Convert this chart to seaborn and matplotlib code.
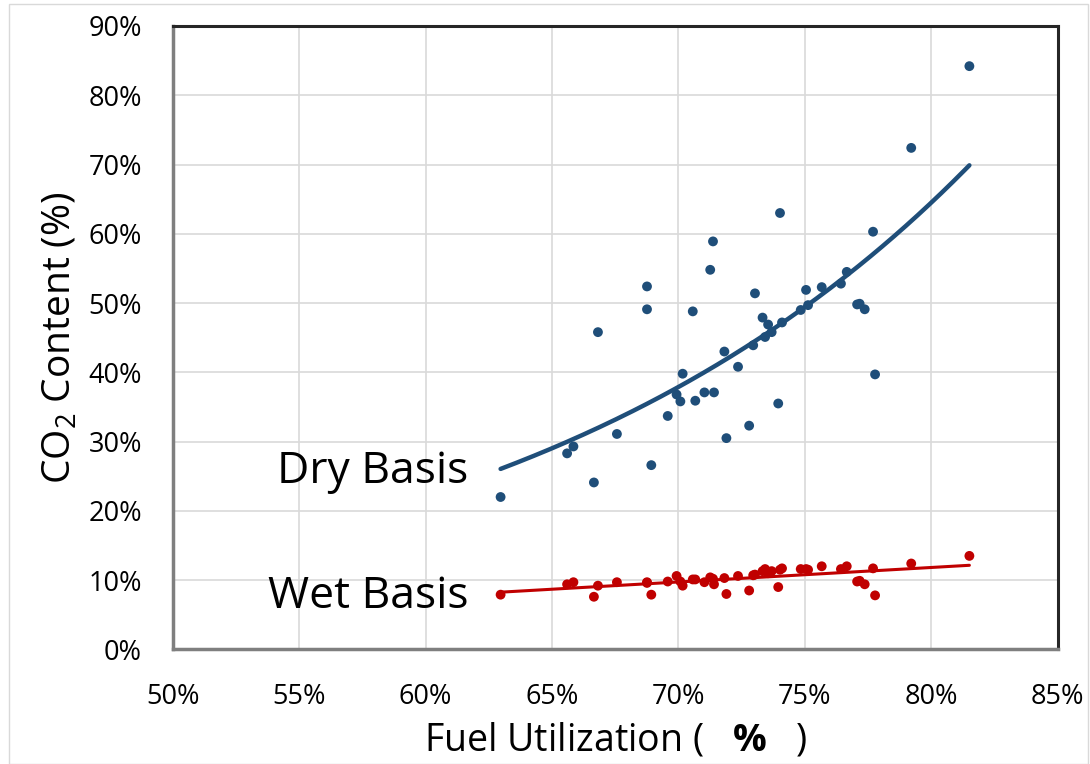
import numpy as np
import pandas as pd
import matplotlib
matplotlib.use("Agg")
import matplotlib.pyplot as plt
import seaborn as sns
from matplotlib.ticker import PercentFormatter, MultipleLocator

# ---- data ----
fuel_util = [62.97, 65.6, 65.85, 66.66, 66.82, 67.57, 68.76, 68.76, 68.93, 69.58,
             69.93, 70.08, 70.17, 70.57, 70.67, 71.03, 71.26, 71.37, 71.41, 71.82,
             71.9, 72.36, 72.8, 72.96, 73.03, 73.33, 73.43, 73.55, 73.69, 73.95,
             74.02, 74.1, 74.84, 75.05, 75.13, 75.67, 76.43, 76.66, 77.07, 77.17,
             77.37, 77.70, 77.78, 79.21, 81.51]
dry_co2 = [22.0, 28.3, 29.3, 24.1, 45.8, 31.1, 52.4, 49.1, 26.6, 33.7,
           36.8, 35.8, 39.8, 48.8, 35.9, 37.1, 54.8, 58.9, 37.1, 43.0,
           30.5, 40.8, 32.3, 43.9, 51.4, 47.9, 45.1, 46.9, 45.8, 35.5,
           63.0, 47.2, 49.0, 51.9, 49.7, 52.3, 52.8, 54.5, 49.8, 49.9,
           49.1, 60.3, 39.7, 72.4, 84.2]
wet_co2 = [7.9, 9.4, 9.7, 7.6, 9.2, 9.7, 9.7, 9.6, 7.9, 9.8,
           10.6, 9.8, 9.2, 10.1, 10.1, 9.7, 10.4, 10.2, 9.4, 10.3,
           8.0, 10.6, 8.5, 10.7, 10.8, 11.3, 11.6, 11.0, 11.3, 9.0,
           11.5, 11.7, 11.6, 11.6, 11.5, 12.0, 11.6, 12.0, 9.8, 9.9,
           9.4, 11.7, 7.8, 12.4, 13.5]
series_labels = ["Dry Basis", "Wet Basis"]
x_label = r"Fuel Utilization (   $\mathbf{\%}$   )"
y_label = r"CO$_2$ Content (%)"

DRY_COLOR = "#1F4E79"
WET_COLOR = "#C00000"

df = pd.DataFrame({"fu": fuel_util, "dry": dry_co2, "wet": wet_co2})

# trend lines: exponential for dry, linear for wet (least squares on the data)
xs = np.linspace(min(fuel_util), max(fuel_util), 200)
b_dry, a_dry = np.polyfit(df["fu"], np.log(df["dry"]), 1)
dry_fit = np.exp(a_dry + b_dry * xs)
m_wet, c_wet = np.polyfit(df["fu"], df["wet"], 1)
wet_fit = c_wet + m_wet * xs
fit_df = pd.DataFrame({"fu": xs, "dry": dry_fit, "wet": wet_fit})

sns.set_theme(style="white")
plt.rcParams["font.family"] = ["Open Sans", "DejaVu Sans"]
plt.rcParams["mathtext.fontset"] = "custom"
plt.rcParams["mathtext.rm"] = "Open Sans"
plt.rcParams["mathtext.it"] = "Open Sans:italic"
plt.rcParams["mathtext.bf"] = "Open Sans:bold"

fig = plt.figure(figsize=(10.9, 7.64), dpi=100)
ax = fig.add_axes([0.1584, 0.150, 0.8119, 0.816])

ax.grid(True, color="#d9d9d9", linewidth=1.2)
ax.set_axisbelow(True)

sns.lineplot(data=fit_df, x="fu", y="dry", ax=ax, color=DRY_COLOR, linewidth=3.2, zorder=2)
sns.lineplot(data=fit_df, x="fu", y="wet", ax=ax, color=WET_COLOR, linewidth=2.2, zorder=2)
sns.scatterplot(data=df, x="fu", y="dry", ax=ax, color=DRY_COLOR, s=50, edgecolor="none", zorder=3)
sns.scatterplot(data=df, x="fu", y="wet", ax=ax, color=WET_COLOR, s=50, edgecolor="none", zorder=3)

ax.set_xlim(50, 85)
ax.set_ylim(0, 90)
ax.xaxis.set_major_locator(MultipleLocator(5))
ax.yaxis.set_major_locator(MultipleLocator(10))
ax.xaxis.set_major_formatter(PercentFormatter(decimals=0))
ax.yaxis.set_major_formatter(PercentFormatter(decimals=0))
ax.tick_params(axis="both", labelsize=19.5, colors="#000000", length=0)
ax.tick_params(axis="x", pad=24)
ax.tick_params(axis="y", pad=22)

for side in ["left", "bottom"]:
    ax.spines[side].set_color("#7f7f7f")
    ax.spines[side].set_linewidth(2.5)
for side in ["top", "right"]:
    ax.spines[side].set_color("#262626")
    ax.spines[side].set_linewidth(2.2)

ax.set_xlabel(x_label, fontsize=27, labelpad=8, color="black")
ax.set_ylabel(y_label, fontsize=28, labelpad=6, color="black")

ax.text(61.7, 24.0, series_labels[0], fontsize=32, ha="right", va="baseline", color="black")
ax.text(61.7, 6.0, series_labels[1], fontsize=32, ha="right", va="baseline", color="black")

# thin outer chart border
fig.patches.append(plt.Rectangle((0.008, 0.0), 0.99, 0.995, transform=fig.transFigure,
                                 fill=False, edgecolor="#d9d9d9", linewidth=1.0))

fig.savefig("out.png", dpi=100)
